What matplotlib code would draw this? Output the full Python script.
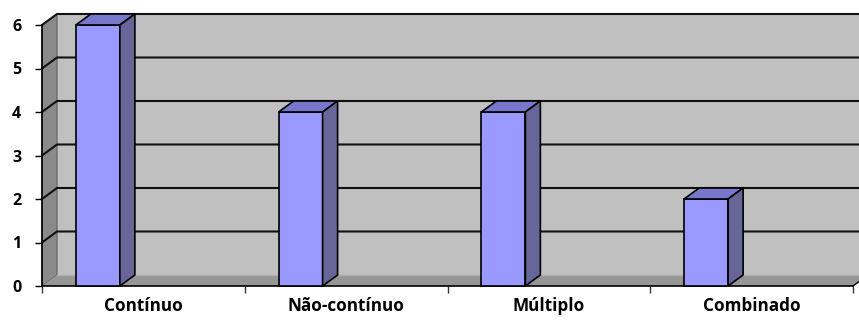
import matplotlib.pyplot as plt
from matplotlib.patches import Polygon

categories = ['Contínuo', 'Não-contínuo', 'Múltiplo', 'Combinado']
values = [6, 4, 4, 2]
y_ticks = [0, 1, 2, 3, 4, 5, 6]

# fake 3d look, depth in data units
dx, dy = 0.074, 0.253
bar_off, bar_w = 0.167, 0.217

fig = plt.figure(figsize=(8.59, 3.21), dpi=100)
W, H = 859, 321
ax = fig.add_axes([42 / W, (H - 286) / H, (853 - 42) / W, (286 - 25) / H])
ax.set_xlim(0, len(categories))
ax.set_ylim(0, 6)
ax.patch.set_visible(False)

n = len(categories)
# walls and floor
ax.add_patch(Polygon([(dx, dy), (n + dx + 1, dy), (n + dx + 1, 6 + dy), (dx, 6 + dy)],
                     closed=True, fc='#c0c0c0', ec='none', zorder=0.5, clip_on=False))
ax.add_patch(Polygon([(0, 0), (dx, dy), (dx, 6 + dy), (0, 6)],
                     closed=True, fc='#8a8a8a', ec='#606060', lw=0.8, zorder=0.6, clip_on=False))
ax.add_patch(Polygon([(0, 0), (n, 0), (n + dx, dy), (dx, dy)],
                     closed=True, fc='#969696', ec='none', zorder=0.6, clip_on=False))
ax.plot([dx, n + dx + 1], [dy, dy], color='#b0b0b0', lw=1, zorder=0.7, clip_on=False)
ax.plot([n, n + dx], [0, dy], color='black', lw=1, zorder=0.7, clip_on=False)

for v in y_ticks[1:]:
    ax.plot([0, dx, n + dx + 1], [v, v + dy, v + dy], color='#111111', lw=1.5,
            zorder=0.8, clip_on=False)

# bars
for i, v in enumerate(values):
    x0 = i + bar_off
    x1 = x0 + bar_w
    ax.add_patch(Polygon([(x0, 0), (x1, 0), (x1, v), (x0, v)], closed=True,
                         fc='#9999ff', ec='black', lw=1.2, zorder=3, clip_on=False))
    ax.add_patch(Polygon([(x0, v), (x1, v), (x1 + dx, v + dy), (x0 + dx, v + dy)], closed=True,
                         fc='#7777cc', ec='black', lw=1.2, zorder=3, clip_on=False))
    ax.add_patch(Polygon([(x1, 0), (x1 + dx, dy), (x1 + dx, v + dy), (x1, v)], closed=True,
                         fc='#666699', ec='black', lw=1.2, zorder=3, clip_on=False))

for s in ['top', 'right']:
    ax.spines[s].set_visible(False)
ax.spines['left'].set_linewidth(1.2)
ax.spines['bottom'].set_linewidth(1.2)

ax.set_yticks(y_ticks)
ax.set_yticklabels([str(t) for t in y_ticks], fontsize=11.5, fontweight='bold', family='Open Sans')
ax.tick_params(axis='y', direction='out', length=5, width=1, pad=10)

ax.set_xticks(range(n + 1))
ax.set_xticklabels([])
ax.set_xticks([i + 0.5 for i in range(n)], minor=True)
ax.set_xticklabels(categories, minor=True, fontsize=12.3, fontweight='bold', family='Open Sans')
ax.tick_params(axis='x', which='major', direction='out', length=5, width=1, color='#333333')
ax.tick_params(axis='x', which='minor', length=0, pad=8)

fig.savefig('out.png', dpi=100)
